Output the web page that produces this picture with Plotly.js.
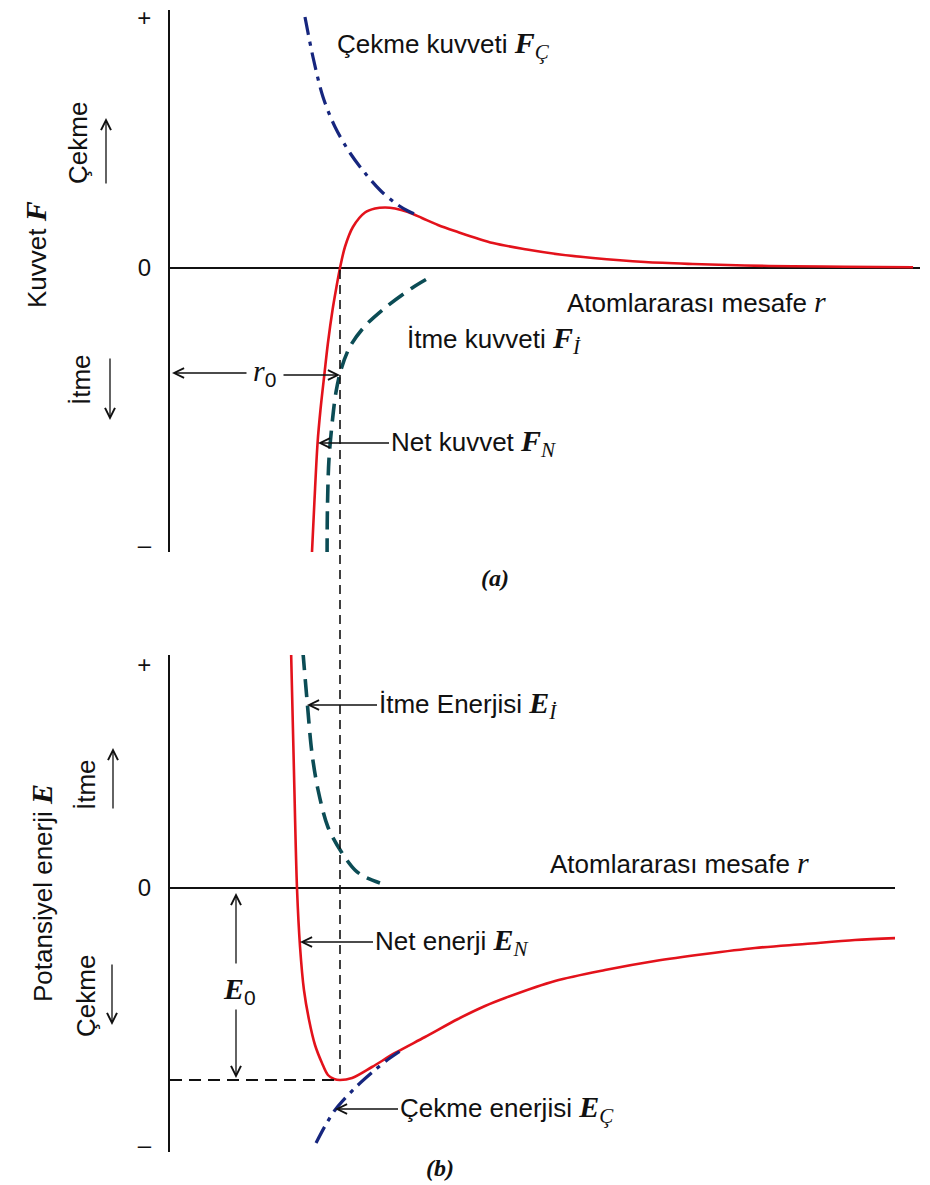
<!DOCTYPE html>
<html><head><meta charset="utf-8">
<script src="https://cdn.plot.ly/plotly-3.0.1.min.js"></script>
<style>html,body{margin:0;padding:0;background:#fff}</style>
</head><body>
<div id="chart" style="width:930px;height:1185px"></div>
<script>
// ---------- Panel (a): force vs interatomic distance (r0 = 1) ----------
var forceNetR   = [0.835,0.850,0.868,0.885,0.909,0.929,0.956,0.976,1.000,1.029,1.076,1.147,1.206,1.265,1.324,1.400,1.482,1.576,1.676,1.900,2.100,2.294,2.488,2.794,3.076,3.382,3.665,3.971,4.371];
var forceNetF   = [-5.70,-4.64,-3.50,-2.84,-2.10,-1.50,-0.84,-0.44,0,0.42,0.82,1.11,1.19,1.21,1.19,1.12,1.00,0.86,0.74,0.50,0.37,0.27,0.20,0.12,0.08,0.05,0.035,0.025,0.015];
var forceAttR   = [0.794,0.841,0.900,0.971,1.059,1.147,1.235,1.324,1.400,1.453];
var forceAttF   = [5.02,4.22,3.42,2.82,2.30,1.90,1.56,1.30,1.14,1.06];
var forceRepR   = [0.924,0.926,0.935,0.956,0.976,1.006,1.059,1.147,1.282,1.424,1.547];
var forceRepF   = [-5.77,-4.83,-3.83,-3.03,-2.49,-2.03,-1.57,-1.16,-0.75,-0.40,-0.15];
var forceTickVals = [5.0, 0, -5.54];
var forceTickText = ['+', '0', '\u2013'];

// ---------- Panel (b): potential energy vs interatomic distance ----------
var energyNetR  = [0.712,0.729,0.747,0.765,0.788,0.818,0.853,0.894,0.929,0.965,1.000,1.071,1.188,1.324,1.500,1.694,1.853,1.971,2.265,2.559,2.853,3.147,3.441,3.735,4.029,4.282];
var energyNetE  = [4.76,2.36,0,-1.18,-2.04,-2.64,-3.14,-3.50,-3.74,-3.82,-3.84,-3.80,-3.58,-3.30,-2.98,-2.62,-2.36,-2.20,-1.86,-1.64,-1.46,-1.32,-1.20,-1.12,-1.04,-1.00];
var energyAttR  = [0.859,0.912,0.971,1.088,1.206,1.294,1.382];
var energyAttE  = [-5.10,-4.76,-4.44,-4.00,-3.64,-3.40,-3.20];
var energyRepR  = [0.782,0.806,0.835,0.871,0.929,1.012,1.088,1.147,1.235];
var energyRepE  = [4.72,3.76,2.70,1.96,1.22,0.70,0.36,0.22,0.10];
var energyTickVals = [4.46, 0, -5.14];
var energyTickText = ['+', '0', '\u2013'];
var r0 = 1.0;
var E0 = -3.84;

var RED = '#e3121b', NAVY = '#16267e', TEAL = '#0b4c55';
var SANS = 'Liberation Sans, Arial, sans-serif';
var SERIF = 'Liberation Serif, Times New Roman, serif';
var FS = 26;

function sym(letter, sub, bold, uprightSub) {
  var L = bold ? '<b>' + letter + '</b>' : letter;
  var s = '<span style="font-family:' + SERIF + ';font-size:30px"><i>' + L + '</i>';
  if (sub) {
    s += uprightSub
      ? '<sub><span style="font-family:' + SANS + '">' + sub + '</span></sub>'
      : '<sub><i>' + sub + '</i></sub>';
  }
  return s + '</span>';
}

var smoothLine = function (color, width, dash) {
  var l = {color: color, width: width, shape: 'spline', smoothing: 0.9};
  if (dash) l.dash = dash;
  return l;
};
var DASH = '18px,9px', DASHDOT = '18px,7px,4px,7px';

var traces = [
  {x: forceNetR, y: forceNetF, xaxis: 'x', yaxis: 'y', mode: 'lines', line: smoothLine(RED, 2.6)},
  {x: forceRepR, y: forceRepF, xaxis: 'x', yaxis: 'y', mode: 'lines', line: smoothLine(TEAL, 3.6, DASH)},
  {x: forceAttR, y: forceAttF, xaxis: 'x', yaxis: 'y', mode: 'lines', line: smoothLine(NAVY, 3.2, DASHDOT)},
  {x: energyNetR, y: energyNetE, xaxis: 'x2', yaxis: 'y2', mode: 'lines', line: smoothLine(RED, 2.6)},
  {x: energyRepR, y: energyRepE, xaxis: 'x2', yaxis: 'y2', mode: 'lines', line: smoothLine(TEAL, 3.6, DASH)},
  {x: energyAttR, y: energyAttE, xaxis: 'x2', yaxis: 'y2', mode: 'lines', line: smoothLine(NAVY, 3.2, DASHDOT)}
];

// layout helpers: pixel -> paper
var W = 930, H = 1185;
function px(x) { return x / W; }
function py(y) { return 1 - y / H; }

function label(x, y, text, opts) {
  var a = {x: px(x), y: py(y), xref: 'paper', yref: 'paper', text: text, showarrow: false,
           xanchor: 'left', yanchor: 'middle', font: {family: SANS, size: FS, color: '#111'}};
  for (var k in opts) a[k] = opts[k];
  return a;
}
// labelled arrow: head at (hx,hy), text starts at tail (ax px to the right)
function pointer(hx, hy, ax, text) {
  return {x: px(hx), y: py(hy), xref: 'paper', yref: 'paper', text: text, showarrow: true,
          ax: ax, ay: 0, axref: 'pixel', ayref: 'pixel', xanchor: 'left', yanchor: 'middle',
          arrowhead: 5, arrowsize: 1.5, arrowwidth: 1.3, arrowcolor: '#111', standoff: 0, startstandoff: 0,
          font: {family: SANS, size: FS, color: '#111'}};
}
function arrow(hx, hy, ax, ay) {
  return {x: px(hx), y: py(hy), xref: 'paper', yref: 'paper', text: '', showarrow: true,
          ax: ax, ay: ay, axref: 'pixel', ayref: 'pixel', arrowhead: 5, arrowsize: 1.5,
          arrowwidth: 1.3, arrowcolor: '#111', standoff: 0, startstandoff: 0};
}

var annotations = [
  // panel (a)
  label(335, 45, 'Çekme kuvveti ' + sym('F', 'Ç', true)),
  label(565, 302, 'Atomlararası mesafe ' + sym('r')),
  label(405, 340, 'İtme kuvveti ' + sym('F', 'İ', true)),
  pointer(318, 443, 71, 'Net kuvvet ' + sym('F', 'N', true)),
  label(264, 373, sym('r', '0', false, true), {xanchor: 'center'}),
  label(495, 578, '<i><b>(a)</b></i>', {xanchor: 'center', font: {family: SERIF, size: 24, color: '#111'}}),
  label(35, 255, 'Kuvvet ' + sym('F', '', true), {xanchor: 'center', textangle: -90}),
  label(78, 143, 'Çekme', {xanchor: 'center', textangle: -90}),
  label(81, 380, 'İtme', {xanchor: 'center', textangle: -90}),
  arrow(106, 118, 0, 67),
  arrow(110, 420, 0, -63),
  arrow(172, 373, 76, 0),
  arrow(340, 375, -58, 0),
  // panel (b)
  pointer(307, 705, 70, 'İtme Enerjisi ' + sym('E', 'İ', true)),
  label(548, 862, 'Atomlararası mesafe ' + sym('r')),
  pointer(300, 942, 73, 'Net enerji ' + sym('E', 'N', true)),
  pointer(335, 1109, 63, 'Çekme enerjisi ' + sym('E', 'Ç', true)),
  label(239, 990, sym('E', '0', true, true), {xanchor: 'center'}),
  label(440, 1168, '<i><b>(b)</b></i>', {xanchor: 'center', font: {family: SERIF, size: 24, color: '#111'}}),
  label(42, 893, 'Potansiyel enerji ' + sym('E', '', true), {xanchor: 'center', textangle: -90}),
  label(86, 785, 'İtme', {xanchor: 'center', textangle: -90}),
  label(86, 996, 'Çekme', {xanchor: 'center', textangle: -90}),
  arrow(113, 748, 0, 62),
  arrow(112, 1025, 0, -62),
  arrow(236, 893, 0, 72),
  arrow(236, 1078, 0, -70)
];

var shapes = [
  // r0 dashed guide from panel (a) zero crossing down to the energy minimum
  {type: 'line', xref: 'x', yref: 'paper', x0: r0, x1: r0, y0: py(270), y1: py(1080),
   line: {color: '#111', width: 1.6, dash: '9px,6px'}},
  // E0 dashed guide
  {type: 'line', xref: 'x2', yref: 'y2', x0: 0, x1: r0, y0: E0, y1: E0,
   line: {color: '#111', width: 1.8, dash: '12px,7px'}}
];

var axCommon = {showgrid: false, zeroline: false, showticklabels: false, showline: false, ticks: '', fixedrange: true};
var yCommon = {showgrid: false, showline: true, linecolor: '#111', linewidth: 2, zeroline: true,
               zerolinecolor: '#111', zerolinewidth: 1.6, ticks: '', ticklabelstandoff: 12,
               tickfont: {family: SANS, size: 24, color: '#111'}, fixedrange: true};

var layout = {
  width: W, height: H, margin: {l: 0, r: 0, t: 0, b: 0},
  paper_bgcolor: '#fff', plot_bgcolor: '#fff', showlegend: false,
  xaxis: Object.assign({}, axCommon, {domain: [170 / W, 920 / W], range: [0, 750 / 170], anchor: 'y'}),
  yaxis: Object.assign({}, yCommon, {domain: [py(552), py(10)], range: [-5.68, 5.16], anchor: 'x',
                        tickvals: forceTickVals, ticktext: forceTickText}),
  xaxis2: Object.assign({}, axCommon, {domain: [170 / W, 895 / W], range: [0, 725 / 170], anchor: 'y2'}),
  yaxis2: Object.assign({}, yCommon, {domain: [py(1152), py(655)], range: [-5.28, 4.66], anchor: 'x2',
                         tickvals: energyTickVals, ticktext: energyTickText}),
  annotations: annotations,
  shapes: shapes
};

Plotly.newPlot('chart', traces, layout, {staticPlot: true});
</script>
</body></html>
